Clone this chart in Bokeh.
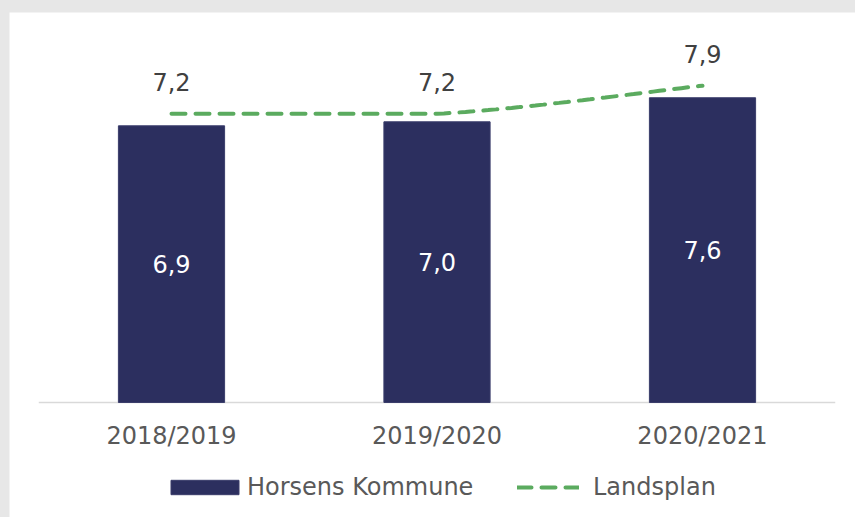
import numpy as np
from bokeh.plotting import figure
from bokeh.models import Legend, LegendItem, GlobalInlineStyleSheet
from bokeh.core.properties import value
from bokeh.embed import file_html
from bokeh.resources import INLINE

# ---- data ----
categories = ["2018/2019", "2019/2020", "2020/2021"]
horsens = [6.9, 7.0, 7.6]
landsplan = [7.2, 7.2, 7.9]

def fmt(v):
    return f"{v:.1f}".replace(".", ",")

horsens_labels = [fmt(v) for v in horsens]
landsplan_labels = [fmt(v) for v in landsplan]

xpos = np.arange(len(categories), dtype=float)

# smooth (Catmull-Rom style) curve through the Landsplan points
def smooth(xs, ys, n=40):
    pts = np.column_stack([xs, ys]).astype(float)
    m = len(pts)
    tang = np.zeros_like(pts)
    for i in range(m):
        a = pts[max(i - 1, 0)]
        b = pts[min(i + 1, m - 1)]
        tang[i] = (b - a) / 2.0
    out = []
    for i in range(m - 1):
        p0 = pts[i]
        p3 = pts[i + 1]
        if p0[1] == p3[1]:
            c1 = p0 + (p3 - p0) / 3.0
            c2 = p3 - (p3 - p0) / 3.0
        else:
            c1 = p0 + tang[i] / 3.0
            c2 = p3 - tang[i + 1] / 3.0
        t = np.linspace(0, 1, n)[:, None]
        seg = ((1 - t) ** 3) * p0 + 3 * ((1 - t) ** 2) * t * c1 + 3 * (1 - t) * t ** 2 * c2 + t ** 3 * p3
        if i > 0:
            seg = seg[1:]
        out.append(seg)
    out = np.vstack(out)
    return out[:, 0], out[:, 1]

sx, sy = smooth(xpos, landsplan)

FONT = "DejaVu Sans"

p = figure(width=846, height=505, x_range=(-0.6102, 2.5763), y_range=(-2.868, 9.726),
           output_backend="svg", toolbar_location=None,
           x_axis_location=None, y_axis_location=None,
           min_border_left=0, min_border_right=0, min_border_top=0,
           min_border_bottom=0)
p.margin = (12, 0, 0, 9)
p.stylesheets = [GlobalInlineStyleSheet(css="html, body { background: #e7e7e7; overflow: hidden; }")]
p.background_fill_color = "white"
p.border_fill_color = "white"
p.outline_line_color = None
p.xgrid.visible = False
p.ygrid.visible = False

# category baseline across the category band
p.segment(x0=[-0.5], y0=[0], x1=[len(categories) - 0.5], y1=[0], line_color="#d9d9d9", line_width=1.5)

bars = p.vbar(x=xpos, top=horsens, width=0.4, fill_color="#2c2f5f", line_color="#3a3d6b", line_width=1)
line = p.line(sx, sy, line_color="#5bab5f", line_width=4, line_dash="14 10", line_cap="round")

p.text(x=xpos, y=landsplan, text=landsplan_labels, text_align="center", text_baseline="middle",
       y_offset=-32, text_font=value(FONT), text_font_size="24px", text_color="#404040")
p.text(x=xpos, y=[v / 2 for v in horsens], text=horsens_labels, text_align="center",
       text_baseline="middle", text_font=value(FONT), text_font_size="24px", text_color="white")

# category labels (x axis)
p.text(x=xpos, y=[0] * len(xpos), text=categories, text_align="center", text_baseline="middle",
       y_offset=34, text_font=value(FONT), text_font_size="24px", text_color="#595959")

common = dict(orientation="horizontal", label_text_font=FONT, label_text_font_size="24px",
              label_text_color="#595959", padding=0, margin=0, border_line_color=None,
              background_fill_alpha=0)

legend_bar = Legend(items=[LegendItem(label="Horsens Kommune", renderers=[bars])],
                    location=(153, 16), glyph_width=85, glyph_height=18, label_standoff=0,
                    **common)
legend_line = Legend(items=[LegendItem(label="Landsplan", renderers=[line])],
                     location=(508, 16), glyph_width=62, glyph_height=18, label_standoff=14,
                     **common)
p.add_layout(legend_bar, "center")
p.add_layout(legend_line, "center")

open("out.html", "w").write(file_html(p, INLINE))
